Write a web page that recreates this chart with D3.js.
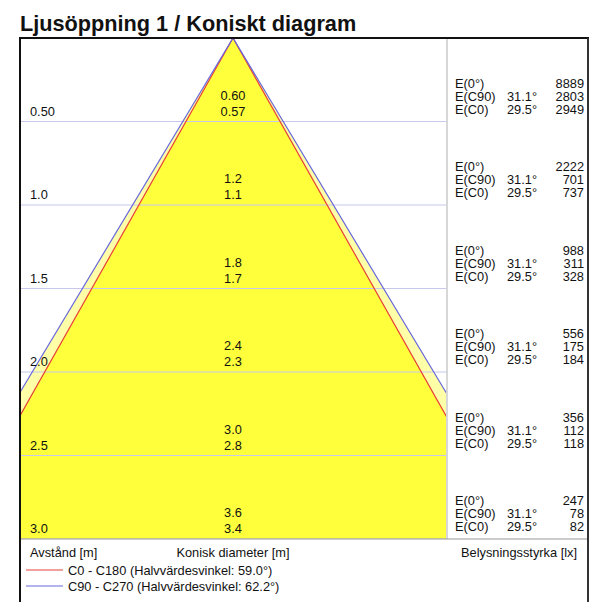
<!DOCTYPE html>
<html>
  <head>
    <meta charset="utf-8">
    <title>Ljusöppning 1 / Koniskt diagram</title>
    <script src="https://d3js.org/d3.v7.min.js"></script>
    <style>
      body { margin: 0; background: #fff; }
      svg text { font-family: "Liberation Sans", Arial, sans-serif; fill: #111; font-size: 12.8px; }
    </style>
  </head>
  <body>
    <svg id="chart" width="592" height="602"></svg>
    <script>
      // values
      var distances = [0.5, 1.0, 1.5, 2.0, 2.5, 3.0];
      var distLabels = ["0.50", "1.0", "1.5", "2.0", "2.5", "3.0"];
      var diamC90 = ["0.60", "1.2", "1.8", "2.4", "3.0", "3.6"];
      var diamC0 = ["0.57", "1.1", "1.7", "2.3", "2.8", "3.4"];
      var e0 = [8889, 2222, 988, 556, 356, 247];
      var eC90 = [2803, 701, 311, 175, 112, 78];
      var eC0 = [2949, 737, 328, 184, 118, 82];
      var halfAngleC0 = 59.0;   // C0 - C180
      var halfAngleC90 = 62.2;  // C90 - C270

      var svg = d3.select("#chart");
      var plotLeft = 20, plotRight = 446, plotTop = 38, plotBottom = 539, panelRight = 588;

      var x = d3.scaleLinear().domain([-1.28, 1.28]).range([plotLeft, plotRight]);
      var y = d3.scaleLinear().domain([0, 3]).range([plotTop, plotBottom]);

      function tanHalf(a) { return Math.tan(a / 2 * Math.PI / 180); }
      function cone(a) {
        var w = 3 * tanHalf(a);
        return [[x(0), y(0)], [x(-w), y(3)], [x(w), y(3)]];
      }

      // title
      svg.append("text")
        .attr("x", 20).attr("y", 31)
        .style("font-size", "21.7px").style("font-weight", "bold")
        .text("Ljusöppning 1 / Koniskt diagram");

      svg.append("clipPath").attr("id", "plotClip")
        .append("rect")
          .attr("x", plotLeft).attr("y", plotTop)
          .attr("width", plotRight - plotLeft).attr("height", plotBottom - plotTop);

      var plot = svg.append("g").attr("clip-path", "url(#plotClip)");

      plot.append("polygon")
        .attr("points", cone(halfAngleC90).join(" "))
        .attr("fill", "#ffffa8");
      plot.append("polygon")
        .attr("points", cone(halfAngleC0).join(" "))
        .attr("fill", "#ffff3c");

      // grid lines
      plot.selectAll(".grid")
          .data(distances)
        .enter().append("line")
          .attr("x1", plotLeft).attr("x2", plotRight + 1)
          .attr("y1", function(d) { return y(d); })
          .attr("y2", function(d) { return y(d); })
          .attr("stroke", "#c8c8ee").attr("stroke-width", 1.2);

      // cone edges
      [[halfAngleC0, "#e8403a"], [halfAngleC90, "#6868dc"]].forEach(function(c) {
        var p = cone(c[0]);
        plot.append("polyline")
          .attr("points", [p[1], p[0], p[2]].join(" "))
          .attr("fill", "none")
          .attr("stroke", c[1]).attr("stroke-width", 1.2);
      });

      // frame
      svg.append("line").attr("x1", plotRight + 1).attr("x2", plotRight + 1)
        .attr("y1", plotTop).attr("y2", plotBottom)
        .attr("stroke", "#bdbdbd").attr("stroke-width", 1.2);
      svg.append("line").attr("x1", plotLeft).attr("x2", panelRight)
        .attr("y1", plotBottom).attr("y2", plotBottom)
        .attr("stroke", "#9a9a9a").attr("stroke-width", 1.2);
      svg.append("line").attr("x1", plotLeft - 1).attr("x2", panelRight + 1)
        .attr("y1", plotTop).attr("y2", plotTop)
        .attr("stroke", "#111").attr("stroke-width", 2);
      svg.append("line").attr("x1", plotLeft).attr("x2", plotLeft)
        .attr("y1", plotTop).attr("y2", 602)
        .attr("stroke", "#111").attr("stroke-width", 2);
      svg.append("line").attr("x1", panelRight).attr("x2", panelRight)
        .attr("y1", plotTop).attr("y2", 602)
        .attr("stroke", "#333").attr("stroke-width", 2);

      // distance labels
      svg.selectAll(".dist")
          .data(distances)
        .enter().append("text")
          .attr("x", 30)
          .attr("y", function(d) { return y(d) - 6; })
          .text(function(d, i) { return distLabels[i]; });

      // diameter labels
      var diam = svg.selectAll(".diam")
          .data(distances)
        .enter().append("g");
      diam.append("text")
        .attr("x", x(0)).attr("y", function(d) { return y(d) - 22; })
        .attr("text-anchor", "middle")
        .text(function(d, i) { return diamC90[i]; });
      diam.append("text")
        .attr("x", x(0)).attr("y", function(d) { return y(d) - 6; })
        .attr("text-anchor", "middle")
        .text(function(d, i) { return diamC0[i]; });

      // illuminance panel
      var rows = svg.selectAll(".illum")
          .data(distances)
        .enter().append("g");
      var lines = [
        { name: "E(0°)", angle: "", vals: e0, dy: -34 },
        { name: "E(C90)", angle: (halfAngleC90 / 2).toFixed(1) + "°", vals: eC90, dy: -21 },
        { name: "E(C0)", angle: (halfAngleC0 / 2).toFixed(1) + "°", vals: eC0, dy: -8 }
      ];
      lines.forEach(function(l) {
        rows.append("text")
          .attr("x", 455).attr("y", function(d) { return y(d) + l.dy; })
          .text(l.name);
        rows.append("text")
          .attr("x", 507).attr("y", function(d) { return y(d) + l.dy; })
          .text(l.angle);
        rows.append("text")
          .attr("x", 584).attr("y", function(d) { return y(d) + l.dy; })
          .attr("text-anchor", "end")
          .text(function(d, i) { return l.vals[i]; });
      });

      // footer
      svg.append("text").attr("x", 30).attr("y", 557)
        .text("Avstånd [m]");
      svg.append("text").attr("x", x(0)).attr("y", 557)
        .attr("text-anchor", "middle")
        .text("Konisk diameter [m]");
      svg.append("text").attr("x", 577).attr("y", 557)
        .attr("text-anchor", "end")
        .text("Belysningsstyrka [lx]");

      var legend = [
        ["C0 - C180 (Halvvärdesvinkel: " + halfAngleC0.toFixed(1) + "°)", "#e8403a"],
        ["C90 - C270 (Halvvärdesvinkel: " + halfAngleC90.toFixed(1) + "°)", "#6868dc"]
      ];
      legend.forEach(function(l, i) {
        var ly = 570 + i * 16;
        svg.append("line").attr("x1", 26).attr("x2", 63)
          .attr("y1", ly).attr("y2", ly)
          .attr("stroke", l[1]).attr("stroke-width", 1.2);
        svg.append("text").attr("x", 68).attr("y", ly + 5)
          .text(l[0]);
      });
    </script>
  </body>
</html>
